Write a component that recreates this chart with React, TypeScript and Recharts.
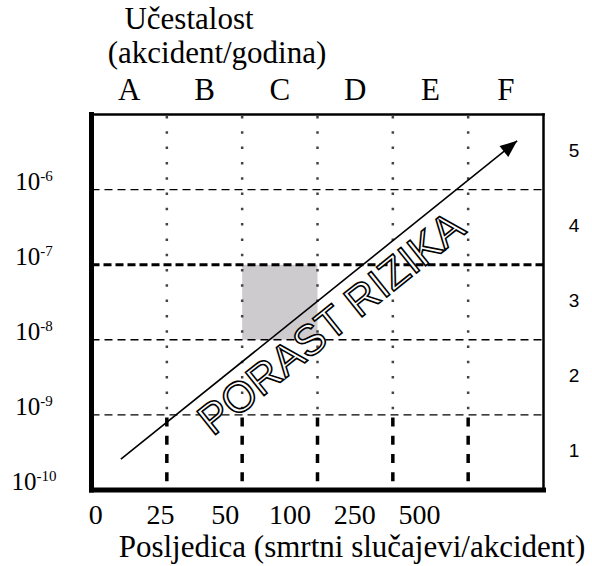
import React from 'react'
import { ComposedChart, Line, XAxis, YAxis, ReferenceLine, ReferenceArea } from 'recharts'

// risk matrix: 6 consequence classes (columns) x 5 frequency classes (rows)
const columns = ['A', 'B', 'C', 'D', 'E', 'F']
const consequenceLabels = ['0', '25', '50', '100', '250', '500']
const freqExponents = ['-10', '-9', '-8', '-7', '-6']
const rowLabels = ['1', '2', '3', '4', '5']
const grayCell = { x1: 2, x2: 3, y1: 2, y2: 3 }
const riskArrow = [{ x: 0.39, y: 0.41 }, { x: 5.65, y: 4.65 }]
const arrowText = 'PORAST RIZIKA'

const serif = '"Liberation Serif", "Times New Roman", serif'
const sans = '"Liberation Sans", Arial, sans-serif'

const W = 592
const H = 566
const M = { top: 113.5, right: 47.5, bottom: 75, left: 90.5 }

const colTicks = columns.map((_, i) => i + 0.5)
const boundTicks = consequenceLabels.map((_, i) => i)
const freqTicks = freqExponents.map((_, i) => i)
const rowTicks = rowLabels.map((_, i) => i + 0.5)

const serifStyle = (size: number) => ({ fontFamily: serif, fontSize: size })

const ConsequenceTick = ({ payload }: any) => (
  <text x={95 + (payload.coordinate - M.left) * 0.859} y={524} textAnchor="middle" style={serifStyle(28)} fill="#000">
    {consequenceLabels[payload.value]}
  </text>
)

const ColumnTick = ({ payload }: any) => (
  <text x={payload.coordinate} y={100} textAnchor="middle" style={serifStyle(31)} fill="#000">
    {columns[Math.floor(payload.value)]}
  </text>
)

const FreqTick = ({ payload }: any) => (
  <text x={34} y={payload.coordinate} textAnchor="middle" style={serifStyle(25)} fill="#000">
    10<tspan dy={-9} style={{ fontSize: 15 }}>{freqExponents[payload.value]}</tspan>
  </text>
)

const RowTick = ({ payload }: any) => (
  <text x={574} y={payload.coordinate + 5} textAnchor="middle" style={{ fontFamily: sans, fontSize: 19 }} fill="#000">
    {rowLabels[Math.floor(payload.value)]}
  </text>
)

// arrow head and outlined caption, placed along the arrow segment
const ArrowDecor = (props: any) => {
  const { x1, y1, x2, y2 } = props
  const dx = x2 - x1
  const dy = y2 - y1
  const len = Math.hypot(dx, dy)
  const ux = dx / len
  const uy = dy / len
  const nx = -uy
  const ny = ux
  const head = 17
  const half = 7
  const bx = x2 - ux * head
  const by = y2 - uy * head
  const angle = (Math.atan2(dy, dx) * 180) / Math.PI
  const tx = x1 + dx * 0.49 + nx * 40
  const ty = y1 + dy * 0.49 + ny * 40
  return (
    <g>
      <polygon
        points={`${x2},${y2} ${bx + nx * half},${by + ny * half} ${bx - nx * half},${by - ny * half}`}
        fill="#000"
      />
      <text
        x={tx}
        y={ty}
        transform={`rotate(${angle} ${tx} ${ty})`}
        textAnchor="middle"
        style={{ fontFamily: sans, fontSize: 43 }}
        fill="#fff"
        stroke="#000"
        strokeWidth={1.6}
      >
        {arrowText}
      </text>
    </g>
  )
}

const thin = { stroke: '#000', strokeWidth: 1.4, strokeDasharray: '8 5' }
const thick = { stroke: '#000', strokeWidth: 3, strokeDasharray: '8 4' }
const dotted = { stroke: '#444', strokeWidth: 2.5, strokeDasharray: '2.5 12.8', strokeDashoffset: -1.5 }
const heavy = { stroke: '#000', strokeWidth: 3.5, strokeDasharray: '9 9.3', strokeDashoffset: -2.5 }

export default function App() {
  return (
    <div style={{ position: 'absolute', left: 0, top: 0, background: '#fff' }}>
      <ComposedChart width={W} height={H} margin={M} data={riskArrow}>
        <XAxis
          dataKey="x"
          type="number"
          domain={[0, 6]}
          allowDataOverflow
          ticks={boundTicks}
          interval={0}
          height={1}
          axisLine={false}
          tickLine={false}
          tick={<ConsequenceTick />}
          label={{
            content: () => (
              <text x={352} y={557} textAnchor="middle" style={serifStyle(31)} fill="#000">
                Posljedica (smrtni slučajevi/akcident)
              </text>
            ),
          }}
        />
        <XAxis
          xAxisId="top"
          dataKey="x"
          orientation="top"
          type="number"
          domain={[0, 6]}
          allowDataOverflow
          ticks={colTicks}
          interval={0}
          height={1}
          axisLine={false}
          tickLine={false}
          tick={<ColumnTick />}
        />
        <YAxis
          type="number"
          domain={[0, 5]}
          allowDataOverflow
          ticks={freqTicks}
          interval={0}
          width={1}
          axisLine={false}
          tickLine={false}
          tick={<FreqTick />}
          label={{
            content: () => (
              <g style={serifStyle(31)} fill="#000">
                <text x={189} y={29} textAnchor="middle">Učestalost</text>
                <text x={217} y={63} textAnchor="middle">(akcident/godina)</text>
              </g>
            ),
          }}
        />
        <YAxis
          yAxisId="right"
          orientation="right"
          type="number"
          domain={[0, 5]}
          allowDataOverflow
          ticks={rowTicks}
          interval={0}
          width={1}
          axisLine={false}
          tickLine={false}
          tick={<RowTick />}
        />

        <ReferenceArea {...grayCell} fill="#cdcbcd" fillOpacity={1} stroke="none" />

        {[4, 2, 1].map((v) => (
          <ReferenceLine key={'h' + v} y={v} {...thin} />
        ))}
        <ReferenceLine y={3} {...thick} />

        {[1, 2, 3, 4, 5].map((v) => (
          <ReferenceLine key={'vu' + v} segment={[{ x: v, y: 5 }, { x: v, y: 1 }]} {...dotted} />
        ))}
        {[1, 2, 3, 4, 5].map((v) => (
          <ReferenceLine key={'vl' + v} segment={[{ x: v, y: 1 }, { x: v, y: 0 }]} {...heavy} />
        ))}

        <Line dataKey="y" stroke="#000" strokeWidth={1.6} dot={false} activeDot={false} isAnimationActive={false} />
        <ReferenceLine segment={riskArrow} shape={ArrowDecor} />

        <ReferenceLine x={0} stroke="#000" strokeWidth={5} strokeLinecap="square" />
        <ReferenceLine y={0} stroke="#000" strokeWidth={5} strokeLinecap="square" />
        <ReferenceLine x={6} stroke="#000" strokeWidth={2.5} strokeLinecap="square" />
        <ReferenceLine y={5} stroke="#000" strokeWidth={2.5} strokeLinecap="square" />
      </ComposedChart>
    </div>
  )
}
